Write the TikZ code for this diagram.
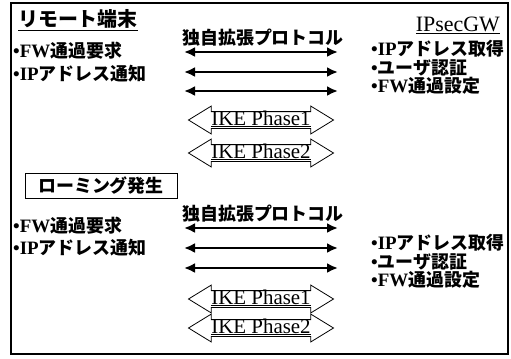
\documentclass[tikz,border=0pt]{standalone}
\usepackage{fontspec}
\setmainfont{Liberation Serif}
\newfontfamily\jpfont{Noto Sans CJK JP}
\usetikzlibrary{arrows.meta,shapes.arrows}
\newcommand{\jb}[1]{{\jpfont\bfseries\fontsize{18}{18}\selectfont #1}}
\begin{document}
\begin{tikzpicture}[x=1bp,y=-1bp,
  item/.style={anchor=west, inner sep=0pt, font=\fontsize{19}{19}\selectfont\bfseries},
  headtxt/.style={inner sep=0pt},
  plabel/.style={inner sep=0pt},
  proto/.style={line width=2.6bp, {Latex[length=11bp,width=10bp]}-{Latex[length=11bp,width=10bp]}},
  ike/.style={double arrow, draw, line width=0.8bp, double arrow tip angle=63,
    double arrow head extend=5.5bp, minimum height=145bp, inner xsep=0pt, inner ysep=0bp,
    text height=13bp, text depth=3bp, font=\fontsize{21}{21}\selectfont},
  roambox/.style={draw, line width=0.8bp, minimum width=152bp, minimum height=25bp, inner sep=0pt}
]
\useasboundingbox (0,0) rectangle (511,358);
\draw[line width=2bp] (11,3) rectangle (508,354);

% headings
\node[headtxt, anchor=west] (rt) at (18,20) {\underline{{\jpfont\bfseries\fontsize{20}{20}\selectfont リモート端末}}};
\node[headtxt, anchor=base east, font=\fontsize{22}{22}\selectfont] (gw) at (500,31) {\underline{IPsecGW}};

% upper section
\node[plabel] (pl1) at (263,38) {\jb{独自拡張プロトコル}};
\coordinate (u1l) at (184,52); \coordinate (u1r) at (338,52);
\coordinate (u2l) at (184,72); \coordinate (u2r) at (338,72);
\coordinate (u3l) at (184,91); \coordinate (u3r) at (338,91);
\draw[proto] (u1l) -- (u1r);
\draw[proto] (u2l) -- (u2r);
\draw[proto] (u3l) -- (u3r);

\node[item] (ul1) at (13,51) {•FW\jb{通過要求}};
\node[item] (ul2) at (13,74) {•IP\jb{アドレス通知}};
\node[item] (ur1) at (371,49) {•IP\jb{アドレス取得}};
\node[item] (ur2) at (371,68) {•\jb{ユーザ認証}};
\node[item] (ur3) at (371,86) {•FW\jb{通過設定}};

\node[ike] (ik1) at (261,120) {\underline{IKE Phase1}};
\node[ike] (ik2) at (261,153) {\underline{IKE Phase2}};

\node[roambox] (roam) at (101,185.5) {\jb{ローミング発生}};

% lower section
\node[plabel] (pl2) at (263,214) {\jb{独自拡張プロトコル}};
\coordinate (l1l) at (184,228); \coordinate (l1r) at (338,228);
\coordinate (l2l) at (184,248); \coordinate (l2r) at (338,248);
\coordinate (l3l) at (184,268); \coordinate (l3r) at (338,268);
\draw[proto] (l1l) -- (l1r);
\draw[proto] (l2l) -- (l2r);
\draw[proto] (l3l) -- (l3r);

\node[item] (ll1) at (13,226) {•FW\jb{通過要求}};
\node[item] (ll2) at (13,248) {•IP\jb{アドレス通知}};
\node[item] (lr1) at (371,243) {•IP\jb{アドレス取得}};
\node[item] (lr2) at (371,262) {•\jb{ユーザ認証}};
\node[item] (lr3) at (371,280) {•FW\jb{通過設定}};

\node[ike] (ik3) at (261,299) {\underline{IKE Phase1}};
\node[ike] (ik4) at (261,328) {\underline{IKE Phase2}};
\end{tikzpicture}
\end{document}
